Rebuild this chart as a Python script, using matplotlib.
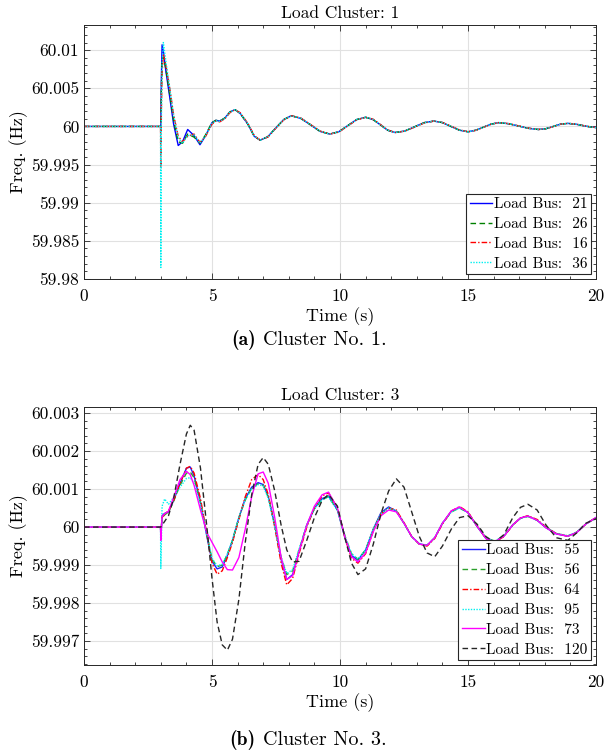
import numpy as np
import matplotlib
matplotlib.use('Agg')
import matplotlib.pyplot as plt
from matplotlib.ticker import MultipleLocator, FuncFormatter

plt.rcParams['font.family'] = ['cmr10', 'DejaVu Serif']
plt.rcParams['mathtext.fontset'] = 'cm'
plt.rcParams['axes.unicode_minus'] = False

# ---- Cluster 1 : time (s) and deviation from 60 Hz in mHz ----
t1 = [0, 2.99, 3.0, 3.02, 3.05, 3.1, 3.2, 3.35, 3.5, 3.68,
      3.85, 4.05, 4.3, 4.53, 4.75, 5.0, 5.15, 5.3, 5.5, 5.7,
      5.9, 6.1, 6.4, 6.65, 6.88, 7.18, 7.49, 7.8, 8.1, 8.47,
      8.85, 9.22, 9.6, 9.95, 10.3, 10.65, 11.0, 11.29, 11.58, 11.86,
      12.15, 12.53, 12.91, 13.29, 13.67, 14.0, 14.33, 14.67, 15.0, 15.3,
      15.6, 15.9, 16.2, 16.59, 16.98, 17.36, 17.75, 18.04, 18.33, 18.61,
      18.9, 19.2, 19.5, 19.75, 20.0]

bus21 = [0, 0, 0, 6.0, 10.7, 9.8, 7.2, 3.8, 0.3, -2.5,
         -2.0, -0.4, -1.2, -2.4, -1.2, 0.5, 0.8, 0.7, 1.1, 1.9,
         2.2, 1.7, 0.3, -1.3, -1.8, -1.35, -0.2, 0.9, 1.4, 1.05,
         0.2, -0.65, -1.0, -0.7, 0.1, 0.9, 1.2, 0.9, 0.2, -0.5,
         -0.8, -0.6, -0.05, 0.5, 0.7, 0.5, 0.0, -0.5, -0.7, -0.5,
         -0.1, 0.3, 0.5, 0.35, 0.05, -0.25, -0.4, -0.3, 0.0, 0.3,
         0.4, 0.3, 0.1, -0.05, -0.15]
bus26 = [0, 0, 0, 5.0, 8.5, 9.2, 7.5, 4.2, 0.8, -2.0,
         -2.2, -1.0, -1.4, -2.2, -1.1, 0.5, 0.8, 0.7, 1.1, 1.9,
         2.2, 1.7, 0.3, -1.3, -1.8, -1.35, -0.2, 0.9, 1.4, 1.05,
         0.2, -0.65, -1.0, -0.7, 0.1, 0.9, 1.2, 0.9, 0.2, -0.5,
         -0.8, -0.6, -0.05, 0.5, 0.7, 0.5, 0.0, -0.5, -0.7, -0.5,
         -0.1, 0.3, 0.5, 0.35, 0.05, -0.25, -0.4, -0.3, 0.0, 0.3,
         0.4, 0.3, 0.1, -0.05, -0.15]
bus16 = [0, 0, -5.5, 2.0, 7.0, 9.5, 8.0, 5.0, 1.5, -1.3,
         -2.0, -1.3, -1.0, -2.1, -1.3, 0.3, 0.7, 0.6, 1.0, 1.8,
         2.2, 1.8, 0.4, -1.2, -1.8, -1.4, -0.25, 0.85, 1.4, 1.1,
         0.25, -0.6, -1.0, -0.75, 0.05, 0.85, 1.2, 0.95, 0.25, -0.45,
         -0.8, -0.62, -0.1, 0.45, 0.7, 0.52, 0.05, -0.45, -0.7, -0.52,
         -0.12, 0.28, 0.5, 0.37, 0.07, -0.22, -0.4, -0.32, -0.02, 0.28,
         0.4, 0.32, 0.12, -0.03, -0.15]
bus36 = [0, 0, -18.5, 0.0, 8.0, 11.0, 8.5, 5.0, 1.5, -1.5,
         -2.2, -1.2, -1.1, -2.2, -1.2, 0.4, 0.75, 0.65, 1.05, 1.85,
         2.2, 1.75, 0.35, -1.25, -1.8, -1.38, -0.22, 0.88, 1.4, 1.08,
         0.22, -0.62, -1.0, -0.72, 0.08, 0.88, 1.2, 0.92, 0.22, -0.48,
         -0.8, -0.61, -0.07, 0.48, 0.7, 0.51, 0.02, -0.48, -0.7, -0.51,
         -0.11, 0.29, 0.5, 0.36, 0.06, -0.24, -0.4, -0.31, -0.01, 0.29,
         0.4, 0.31, 0.11, -0.04, -0.15]

# ---- Cluster 3 : time (s) and deviation from 60 Hz in mHz ----
t3 = [0, 2.99, 3.0, 3.05, 3.15, 3.3, 3.5, 3.75, 4.0, 4.15,
      4.3, 4.55, 4.8, 5.0, 5.2, 5.4, 5.6, 5.8, 6.05, 6.3,
      6.55, 6.8, 7.0, 7.2, 7.45, 7.7, 7.92, 8.15, 8.4, 8.7,
      9.0, 9.3, 9.55, 9.9, 10.2, 10.45, 10.7, 11.0, 11.3, 11.6,
      11.9, 12.2, 12.5, 12.8, 13.1, 13.4, 13.7, 14.0, 14.35, 14.67,
      15.0, 15.35, 15.7, 16.04, 16.4, 16.75, 17.05, 17.34, 17.7, 18.05,
      18.45, 18.9, 19.25, 19.6, 20.0]

bus55 = [0, 0, -0.26, 0.30, 0.36, 0.40, 0.70, 1.15, 1.55, 1.58,
         1.35, 0.65, -0.25, -0.90, -1.10, -1.05, -0.75, -0.35, 0.25, 0.75,
         1.05, 1.17, 1.12, 0.80, 0.05, -0.85, -1.38, -1.25, -0.65, 0.05,
         0.50, 0.75, 0.82, 0.45, -0.30, -0.75, -0.87, -0.60, -0.05, 0.38,
         0.53, 0.42, 0.10, -0.25, -0.44, -0.48, -0.28, 0.10, 0.42, 0.52,
         0.38, 0.02, -0.30, -0.39, -0.24, 0.06, 0.24, 0.29, 0.18, -0.02,
         -0.18, -0.24, -0.14, 0.08, 0.25]
bus56 = [0, 0, -0.15, 0.25, 0.32, 0.40, 0.68, 1.10, 1.42, 1.45,
         1.30, 0.65, -0.20, -0.85, -1.04, -1.00, -0.72, -0.35, 0.25, 0.72,
         1.02, 1.14, 1.10, 0.78, 0.05, -0.80, -1.25, -1.15, -0.60, 0.05,
         0.48, 0.72, 0.80, 0.45, -0.25, -0.70, -0.85, -0.60, -0.06, 0.35,
         0.50, 0.42, 0.10, -0.25, -0.45, -0.48, -0.28, 0.10, 0.40, 0.50,
         0.38, 0.03, -0.28, -0.37, -0.23, 0.06, 0.23, 0.28, 0.18, -0.01,
         -0.17, -0.23, -0.13, 0.08, 0.24]
bus64 = [0, 0, -0.20, 0.25, 0.35, 0.42, 0.70, 1.15, 1.55, 1.60,
         1.42, 0.75, -0.20, -0.95, -1.24, -1.15, -0.80, -0.40, 0.20, 0.80,
         1.25, 1.38, 1.25, 0.85, 0.00, -0.95, -1.52, -1.35, -0.70, 0.00,
         0.50, 0.82, 0.90, 0.50, -0.30, -0.82, -0.95, -0.70, -0.10, 0.35,
         0.50, 0.45, 0.12, -0.25, -0.45, -0.50, -0.30, 0.08, 0.42, 0.54,
         0.40, 0.03, -0.30, -0.40, -0.25, 0.05, 0.24, 0.30, 0.20, 0.00,
         -0.17, -0.24, -0.14, 0.08, 0.25]
bus95 = [0, 0, -1.09, 0.55, 0.74, 0.60, 0.78, 1.05, 1.28, 1.30,
         1.15, 0.60, -0.20, -0.82, -1.02, -0.98, -0.70, -0.33, 0.25, 0.72,
         1.00, 1.12, 1.08, 0.75, 0.02, -0.80, -1.22, -1.12, -0.58, 0.05,
         0.48, 0.72, 0.79, 0.44, -0.25, -0.70, -0.84, -0.60, -0.06, 0.35,
         0.50, 0.42, 0.10, -0.25, -0.45, -0.48, -0.28, 0.10, 0.40, 0.50,
         0.38, 0.03, -0.28, -0.37, -0.23, 0.06, 0.23, 0.28, 0.18, -0.01,
         -0.17, -0.23, -0.13, 0.08, 0.24]
bus73 = [0, 0, -0.35, 0.28, 0.35, 0.42, 0.78, 1.25, 1.47, 1.38,
         1.10, 0.45, -0.15, -0.40, -0.65, -0.92, -1.12, -1.13, -0.80, -0.05,
         0.80, 1.40, 1.45, 1.15, 0.25, -0.80, -1.38, -1.28, -0.65, 0.05,
         0.55, 0.85, 0.92, 0.50, -0.28, -0.78, -0.92, -0.68, -0.12, 0.30,
         0.45, 0.40, 0.10, -0.25, -0.45, -0.48, -0.28, 0.10, 0.43, 0.53,
         0.38, 0.03, -0.30, -0.39, -0.24, 0.06, 0.24, 0.29, 0.18, -0.02,
         -0.18, -0.24, -0.14, 0.08, 0.25]
bus120 = [0, 0, 0, 0.05, 0.15, 0.30, 0.75, 1.65, 2.45, 2.68,
          2.55, 1.55, 0.00, -1.35, -2.50, -3.10, -3.24, -2.95, -1.90, -0.40,
          0.85, 1.65, 1.83, 1.65, 0.95, 0.05, -0.60, -0.92, -0.90, -0.35,
          0.25, 0.70, 0.86, 0.55, -0.30, -0.95, -1.25, -1.10, -0.45, 0.35,
          0.95, 1.27, 1.05, 0.40, -0.25, -0.68, -0.78, -0.50, -0.05, 0.25,
          0.30, 0.08, -0.25, -0.40, -0.20, 0.25, 0.52, 0.60, 0.45, 0.05,
          -0.28, -0.35, -0.15, 0.10, 0.22]

f0 = 60.0
edge = '#262626'


def hz(dev):
    return f0 + np.array(dev) / 1000.0


def style_axes(ax, ymin, ymax, ymajor, yminor, nd):
    ax.set_xlim(0, 20)
    ax.set_ylim(ymin, ymax)
    ax.xaxis.set_major_locator(MultipleLocator(5))
    ax.xaxis.set_minor_locator(MultipleLocator(1))
    ax.yaxis.set_major_locator(MultipleLocator(ymajor))
    ax.yaxis.set_minor_locator(MultipleLocator(yminor))
    ax.yaxis.set_major_formatter(FuncFormatter(lambda v, p: f'{round(v, nd):g}'))
    ax.tick_params(which='both', direction='in', top=True, right=True,
                   color=edge, labelsize=12.5, width=0.6)
    ax.tick_params(axis='x', which='major', pad=7)
    ax.tick_params(which='major', length=4)
    ax.tick_params(which='minor', length=2)
    ax.grid(True, which='major', color='#e1e1e1', lw=0.8)
    ax.set_axisbelow(True)
    for s in ax.spines.values():
        s.set_color(edge)
        s.set_linewidth(0.7)
    ax.set_xlabel('Time (s)', fontsize=13, labelpad=2)
    ax.set_ylabel('Freq. (Hz)', fontsize=13, labelpad=2)


fig = plt.figure(figsize=(6.07, 7.55), dpi=100)
ax1 = fig.add_axes([0.1384, 0.6305, 0.8435, 0.3364])
ax2 = fig.add_axes([0.1384, 0.1192, 0.8435, 0.3417])

lw = 1.0
ax1.plot(t1, hz(bus21), color='#0000ff', lw=lw, ls='-', label='Load Bus:  21')
ax1.plot(t1, hz(bus26), color='#008000', lw=lw, ls=(0, (4, 2.5)), label='Load Bus:  26')
ax1.plot(t1, hz(bus16), color='#ff0000', lw=lw, ls=(0, (4, 1.5, 1, 1.5)), label='Load Bus:  16')
ax1.plot(t1, hz(bus36), color='#00f0f0', lw=lw, ls=(0, (1, 1)), label='Load Bus:  36')
style_axes(ax1, 59.98, 60.0133, 0.005, 0.001, 4)
ax1.set_title('Load Cluster: 1', fontsize=12.5, pad=5)

ax2.plot(t3, hz(bus55), color='#2020ff', lw=lw, ls='-', label='Load Bus:  55')
ax2.plot(t3, hz(bus56), color='#2ca02c', lw=lw, ls=(0, (4, 2.5)), label='Load Bus:  56')
ax2.plot(t3, hz(bus64), color='#ff0000', lw=lw, ls=(0, (4, 1.5, 1, 1.5)), label='Load Bus:  64')
ax2.plot(t3, hz(bus95), color='#00f0f0', lw=lw, ls=(0, (1, 1)), label='Load Bus:  95')
ax2.plot(t3, hz(bus73), color='#ff00ff', lw=lw, ls='-', label='Load Bus:  73')
ax2.plot(t3, hz(bus120), color='#262626', lw=lw, ls=(0, (4, 2.5)), label='Load Bus:  120')
style_axes(ax2, 59.99637, 60.00316, 0.001, 0.0002, 6)
ax2.set_title('Load Cluster: 3', fontsize=12.5, pad=5)

for ax in (ax1, ax2):
    leg = ax.legend(loc='lower right', fontsize=11, handlelength=1.5,
                    handletextpad=0.1, labelspacing=0.4, borderpad=0.25,
                    borderaxespad=0.3, fancybox=False, framealpha=1)
    leg.get_frame().set_edgecolor(edge)
    leg.get_frame().set_linewidth(0.8)

# sub-figure captions
for (y, tag, txt) in [(1 - 340 / 755, '(a)', 'Cluster No. 1.'),
                      (1 - 740 / 755, '(b)', 'Cluster No. 3.')]:
    fig.text(0.421, y, tag, ha='right', va='center', fontsize=14,
             family='cmb10')
    fig.text(0.433, y, txt, ha='left', va='center', fontsize=14.5)

fig.savefig('out.png', dpi=100)
